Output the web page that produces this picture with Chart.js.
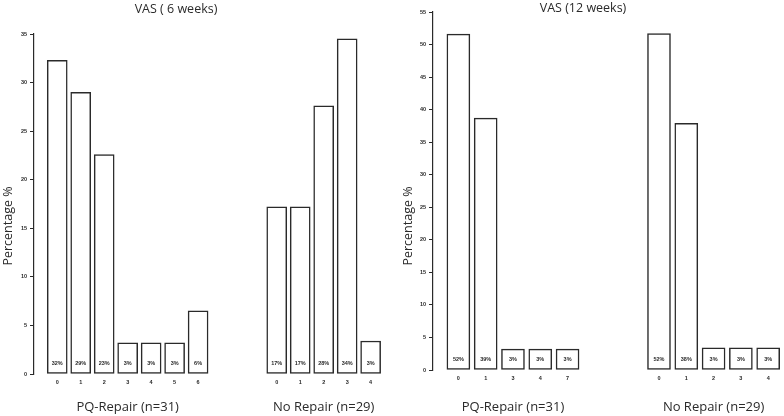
<!DOCTYPE html>
<html>
<head>
<meta charset="utf-8">
<script src="https://cdn.jsdelivr.net/npm/chart.js@4.4.0/dist/chart.umd.min.js"></script>
<style>
  body { margin: 0; background: #fff; }
  canvas { position: absolute; top: 0; }
  #chart1 { left: 0; }
  #chart2 { left: 392px; }
</style>
</head>
<body>
<canvas id="chart1" width="392" height="416"></canvas>
<canvas id="chart2" width="392" height="416"></canvas>
<script>
// VAS after 6 weeks
const pq6Cats = ['0', '1', '2', '3', '4', '5', '6'];
const pq6Vals = [32.3, 29.0, 22.6, 3.2, 3.2, 3.2, 6.5];
const pq6Pct = ['32%', '29%', '23%', '3%', '3%', '3%', '6%'];
const no6Cats = ['0', '1', '2', '3', '4'];
const no6Vals = [17.2, 17.2, 27.6, 34.5, 3.4];
const no6Pct = ['17%', '17%', '28%', '34%', '3%'];

// VAS after 12 weeks
const pq12Cats = ['0', '1', '3', '4', '7'];
const pq12Vals = [51.6, 38.7, 3.2, 3.2, 3.2];
const pq12Pct = ['52%', '39%', '3%', '3%', '3%'];
const no12Cats = ['0', '1', '2', '3', '4'];
const no12Vals = [51.7, 37.9, 3.4, 3.4, 3.4];
const no12Pct = ['52%', '38%', '3%', '3%', '3%'];

const groupNames = ['PQ-Repair (n=31)', 'No Repair (n=29)'];
const yMax6 = 35;
const yMax12 = 55;
const yStep = 5;

const ink = '#2a2a2a';
const tinyFont = { family: 'Liberation Sans', size: 5.5, weight: 'bold' };

// draws titles, group names and the % labels inside bars
const annot = {
  id: 'annot',
  afterDatasetsDraw(chart, args, opts) {
    const c = chart.ctx;
    const area = chart.chartArea;
    c.save();
    c.fillStyle = ink;
    c.textAlign = 'center';
    c.textBaseline = 'middle';

    c.font = '12.5px "Open Sans"';
    c.fillText(opts.title, opts.titleX, opts.titleY);

    c.save();
    c.translate(opts.yTitleX, opts.yTitleY);
    c.rotate(-Math.PI / 2);
    c.fillText('Percentage %', 0, 0);
    c.restore();

    chart.data.datasets.forEach(function(ds, i) {
      const bars = chart.getDatasetMeta(i).data;
      const mid = (bars[0].x + bars[bars.length - 1].x) / 2;
      c.font = '13px "Open Sans"';
      c.fillText(groupNames[i], mid, opts.groupY);
      c.font = 'bold 5.5px "Liberation Sans"';
      bars.forEach(function(b, j) {
        c.fillText(ds.pct[j], b.x, area.bottom - 11);
      });
    });
    c.restore();
  }
};

function makeChart(el, groups, p) {
  const allCats = [];
  const positions = [];
  const datasets = groups.map(function(g, gi) {
    const start = gi * p.offset;
    g.cats.forEach(function(c, i) {
      allCats.push(c);
      positions.push(start + i);
    });
    return {
      data: g.vals.map(function(v, i) { return { x: start + i, y: v }; }),
      pct: g.pct,
      backgroundColor: '#fff',
      borderColor: ink,
      borderWidth: 1.5,
      borderSkipped: false,
      barThickness: p.barWidth,
      grouped: false,
    };
  });

  return new Chart(el, {
    type: 'bar',
    data: { datasets: datasets },
    options: {
      responsive: false,
      animation: false,
      layout: { padding: { top: p.top, left: 0, right: 0, bottom: 0 } },
      plugins: {
        legend: { display: false },
        tooltip: { enabled: false },
        annot: p.annot,
      },
      scales: {
        x: {
          type: 'linear',
          bounds: 'data',
          offset: false,
          min: p.xMin,
          max: p.xMax,
          grid: { display: false, drawTicks: false, offset: false },
          border: { display: false },
          afterBuildTicks: function(scale) {
            scale.ticks = positions.map(function(v) { return { value: v }; });
          },
          afterFit: function(scale) { scale.height = p.xHeight; },
          ticks: {
            autoSkip: false,
            maxRotation: 0,
            padding: 5,
            color: ink,
            font: tinyFont,
            callback: function(v, i) { return allCats[i]; },
          },
        },
        y: {
          min: 0,
          max: p.yMax,
          afterFit: function(scale) { scale.width = p.yWidth; },
          grid: { display: true, drawOnChartArea: false, drawTicks: true, tickLength: 4, color: ink, lineWidth: 1 },
          border: { display: true, color: ink, width: 1.2 },
          ticks: { stepSize: yStep, padding: 3, color: ink, font: tinyFont },
        },
      },
    },
    plugins: [annot],
  });
}

const chart1 = makeChart(document.getElementById('chart1'), [
  { cats: pq6Cats, vals: pq6Vals, pct: pq6Pct },
  { cats: no6Cats, vals: no6Vals, pct: no6Pct },
], {
  offset: 9.35, xMin: -0.99, xMax: 14.26, barWidth: 20,
  top: 34, xHeight: 42, yWidth: 34, yMax: yMax6,
  annot: { title: 'VAS ( 6 weeks)', titleX: 176, titleY: 9, yTitleX: 8, yTitleY: 226, groupY: 407 },
});

const chart2 = makeChart(document.getElementById('chart2'), [
  { cats: pq12Cats, vals: pq12Vals, pct: pq12Pct },
  { cats: no12Cats, vals: no12Vals, pct: no12Pct },
], {
  offset: 7.35, xMin: -0.93, xMax: 11.93, barWidth: 23,
  top: 12, xHeight: 46, yWidth: 41, yMax: yMax12,
  annot: { title: 'VAS (12 weeks)', titleX: 191, titleY: 8, yTitleX: 16, yTitleY: 226, groupY: 407 },
});
</script>
</body>
</html>
